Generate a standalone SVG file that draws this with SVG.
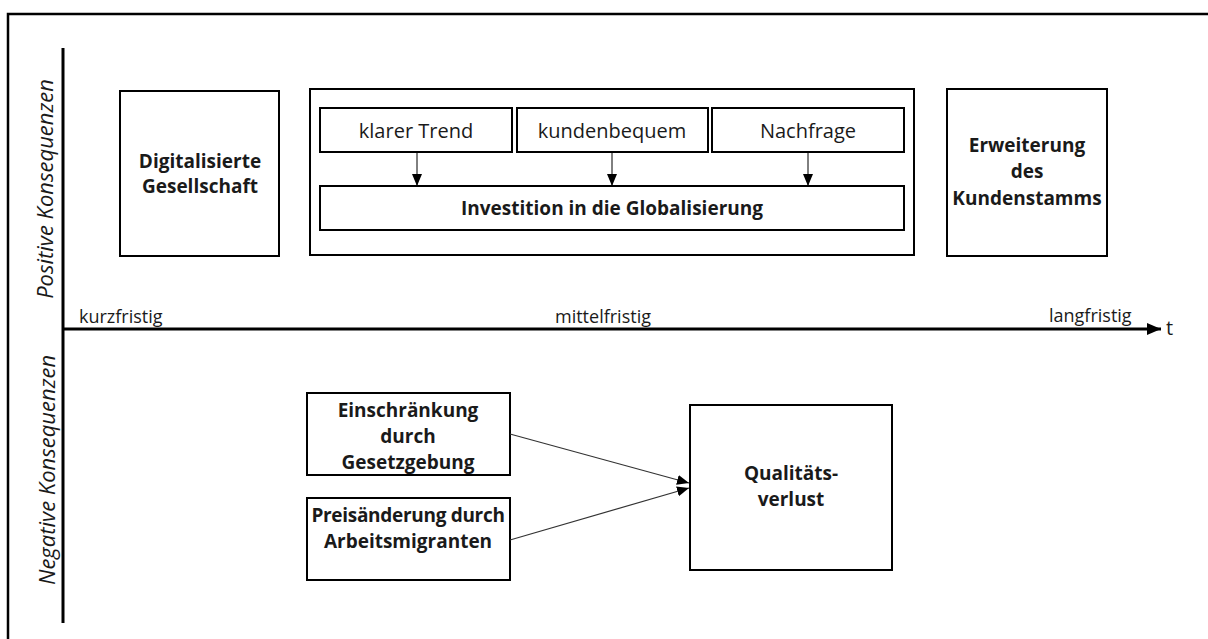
<svg xmlns="http://www.w3.org/2000/svg" width="1208" height="639" viewBox="0 0 1208 639">
<style>
.box{fill:#fff;stroke:#000;stroke-width:2}
.t{font-family:"Open Sans","Liberation Sans",sans-serif;fill:#1a1a1a}
.r{font-size:20px}
.b{font-size:19px;font-weight:bold}
.ax{font-size:18px}
.it{font-size:22px;font-style:italic}
.c{text-anchor:middle}
.axis{stroke:#000;stroke-width:3;fill:none}
.conn{stroke:#000;stroke-width:1;fill:none}
.conn2{stroke:#333;stroke-width:1.2;fill:none}
</style>
<defs>
<marker id="ah" markerUnits="userSpaceOnUse" markerWidth="12" markerHeight="12" viewBox="0 0 12 12" refX="12" refY="6" orient="auto">
<path d="M0,1 L12,6 L0,11 Z" fill="#000"/>
</marker>
<marker id="axh" markerUnits="userSpaceOnUse" markerWidth="14" markerHeight="12" viewBox="0 0 14 12" refX="14" refY="6" orient="auto">
<path d="M0,0 L14,6 L0,12 Z" fill="#000"/>
</marker>
</defs>
<rect width="1208" height="639" fill="#fff"/>
<rect x="8" y="14" width="1220" height="650" fill="none" stroke="#000" stroke-width="2.5"/>

<g id="axes">
<line class="axis" x1="63" y1="48" x2="63" y2="623"/>
<line class="axis" x1="63" y1="329" x2="1161" y2="329" marker-end="url(#axh)"/>
<text class="t r" x="1166" y="335">t</text>
<text class="t ax" x="79" y="323">kurzfristig</text>
<text class="t ax" x="555" y="323">mittelfristig</text>
<text class="t ax" x="1049" y="322">langfristig</text>
<text class="t it c" transform="translate(53,189) rotate(-90)">Positive Konsequenzen</text>
<text class="t it c" transform="translate(55,470) rotate(-90)">Negative Konsequenzen</text>
</g>

<g id="n-digital">
<rect class="box" x="120" y="91" width="159" height="165"/>
<text class="t b c" x="200" y="168">Digitalisierte</text>
<text class="t b c" x="200" y="193">Gesellschaft</text>
</g>

<g id="n-container">
<rect class="box" x="310" y="89" width="604" height="166"/>
</g>
<g id="n-trend">
<rect class="box" x="320" y="108" width="192" height="44"/>
<text class="t r c" x="416" y="138">klarer Trend</text>
</g>
<g id="n-kunden">
<rect class="box" x="517" y="108" width="191" height="44"/>
<text class="t r c" x="612" y="138">kundenbequem</text>
</g>
<g id="n-nachfrage">
<rect class="box" x="712" y="108" width="192" height="44"/>
<text class="t r c" x="808" y="138">Nachfrage</text>
</g>
<g id="n-invest">
<rect class="box" x="320" y="186" width="584" height="44"/>
<text class="t b c" x="612" y="215">Investition in die Globalisierung</text>
</g>

<g id="n-erweiterung">
<rect class="box" x="947" y="89" width="160" height="167"/>
<text class="t b c" x="1027" y="152">Erweiterung</text>
<text class="t b c" x="1027" y="178">des</text>
<text class="t b c" x="1027" y="205">Kundenstamms</text>
</g>

<g id="n-einschraenkung">
<rect class="box" x="307" y="393" width="203" height="82"/>
<text class="t b c" x="408" y="417">Einschränkung</text>
<text class="t b c" x="408" y="443">durch</text>
<text class="t b c" x="408" y="469">Gesetzgebung</text>
</g>
<g id="n-preis">
<rect class="box" x="307" y="498" width="203" height="82"/>
<text class="t b c" x="408" y="522" letter-spacing="-0.3">Preisänderung durch</text>
<text class="t b c" x="408" y="548">Arbeitsmigranten</text>
</g>
<g id="n-qualitaet">
<rect class="box" x="690" y="405" width="202" height="165"/>
<text class="t b c" x="791" y="480">Qualitäts-</text>
<text class="t b c" x="791" y="506">verlust</text>
</g>

<g id="connectors">
<line class="conn" x1="417" y1="152" x2="417" y2="186" marker-end="url(#ah)"/>
<line class="conn" x1="612" y1="152" x2="612" y2="186" marker-end="url(#ah)"/>
<line class="conn" x1="808" y1="152" x2="808" y2="186" marker-end="url(#ah)"/>
<line class="conn2" x1="510" y1="434" x2="689" y2="483" marker-end="url(#ah)"/>
<line class="conn2" x1="510" y1="540" x2="689" y2="488" marker-end="url(#ah)"/>
</g>
</svg>
